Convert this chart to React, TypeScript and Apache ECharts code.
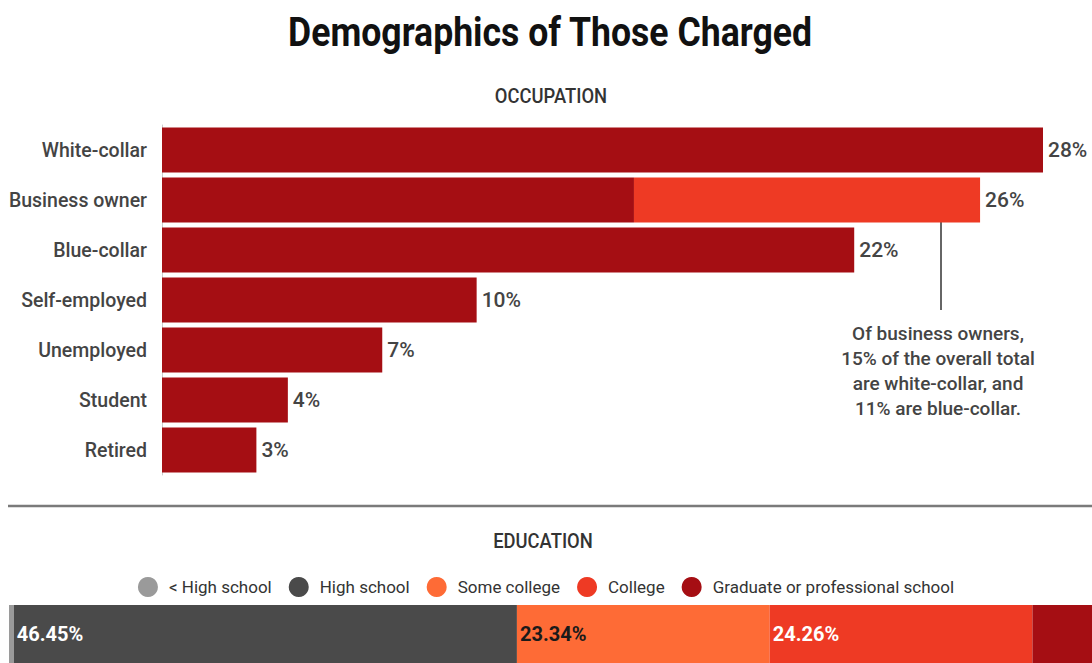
import React, { useEffect, useRef } from "react";
import * as echarts from "echarts";

const occupations = ["White-collar", "Business owner", "Blue-collar", "Self-employed", "Unemployed", "Student", "Retired"];
const occupationShare = [28, 26, 22, 10, 7, 4, 3];
const businessOwnerWhiteCollar = 15;
const businessOwnerBlueCollar = 11;

const educationLevels = ["< High school", "High school", "Some college", "College", "Graduate or professional school"];
const educationShare = [0.45, 46.45, 23.34, 24.26, 5.5];
const educationColors = ["#9a9a9a", "#4a4a4a", "#fe6b36", "#ee3a24", "#a50e13"];
const educationLabelColors = ["", "#ffffff", "#1a1a1a", "#ffffff", ""];

const annotationLines = ["Of business owners,", "15% of the overall total", "are white-collar, and", "11% are blue-collar."];

const DARK_RED = "#a50e13";
const RED = "#ee3a24";
const MAIN = "Roboto, 'Noto Sans', sans-serif";

export default function App() {
  const ref = useRef<HTMLDivElement>(null);
  useEffect(() => {
    document.body.style.margin = "0";
    const chart = echarts.init(ref.current!, null, { renderer: "svg" });
    const boIndex = occupations.indexOf("Business owner");
    const baseData = occupationShare.map((v, i) =>
      i === boIndex
        ? { value: businessOwnerWhiteCollar, label: { show: false } }
        : { value: v }
    );
    const extraData = occupationShare.map((v, i) =>
      i === boIndex ? { value: businessOwnerBlueCollar, label: { show: true } } : { value: 0, label: { show: false } }
    );
    const valueLabel = {
      show: true,
      position: "right",
      distance: 5,
      color: "#444",
      fontFamily: MAIN,
      fontSize: 21,
      fontWeight: 500,
    };
    const eduSeries = educationLevels.map((name, i) => ({
      name,
      type: "bar",
      stack: "edu",
      xAxisIndex: 1,
      yAxisIndex: 1,
      barWidth: "100%",
      itemStyle: { color: educationColors[i] },
      label: {
        show: educationLabelColors[i] !== "",
        position: "insideLeft",
        distance: 3,
        color: educationLabelColors[i] || "#fff",
        fontFamily: MAIN,
        fontSize: 20,
        fontWeight: "bold",
        formatter: (p: any) => p.value.toFixed(2) + "%",
      },
      data: [educationShare[i]],
    }));
    chart.setOption({
      animation: false,
      backgroundColor: "#ffffff",
      legend: {
        data: educationLevels,
        icon: "circle",
        itemWidth: 20,
        itemHeight: 20,
        itemGap: 17,
        left: "center",
        top: 572,
        textStyle: { fontFamily: MAIN, fontSize: 17, color: "#333", padding: [0, 0, 0, 6] },
        selectedMode: false,
      },
      grid: [
        { left: 162, right: 49, top: 125, height: 350 },
        { left: 9, right: 0, top: 605, bottom: 0 },
      ],
      xAxis: [
        { type: "value", gridIndex: 0, min: 0, max: 28, show: false },
        { type: "value", gridIndex: 1, min: 0, max: 100, show: false },
      ],
      yAxis: [
        {
          type: "category",
          gridIndex: 0,
          inverse: true,
          data: occupations,
          axisLine: { show: true, lineStyle: { color: "#cccccc", width: 1 } },
          axisTick: { show: false },
          axisLabel: { margin: 15, color: "#444", fontFamily: MAIN, fontSize: 19.5, fontWeight: 500 },
        },
        { type: "category", gridIndex: 1, data: ["Education"], show: false },
      ],
      graphic: [
        {
          type: "text",
          x: 550,
          y: 32,
          scaleX: 0.89,
          style: {
            text: "Demographics of Those Charged",
            textAlign: "center",
            textVerticalAlign: "middle",
            fontFamily: MAIN,
            fontSize: 40,
            fontWeight: "bold",
            fill: "#111",
          },
        },
        {
          type: "text",
          x: 551,
          y: 96,
          scaleX: 0.92,
          style: { text: "OCCUPATION", textAlign: "center", textVerticalAlign: "middle", fontFamily: MAIN, fontSize: 20, fontWeight: 500, fill: "#333" },
        },
        {
          type: "text",
          x: 543,
          y: 541,
          scaleX: 0.92,
          style: { text: "EDUCATION", textAlign: "center", textVerticalAlign: "middle", fontFamily: MAIN, fontSize: 20, fontWeight: 500, fill: "#333" },
        },
        {
          type: "line",
          shape: { x1: 8, y1: 506, x2: 1092, y2: 506 },
          style: { stroke: "#7a7a7a", lineWidth: 2.5 },
        },
        {
          type: "line",
          shape: { x1: 941, y1: 222, x2: 941, y2: 310 },
          style: { stroke: "#666", lineWidth: 2 },
        },
        {
          type: "text",
          x: 938,
          y: 321,
          style: {
            text: annotationLines.join("\n"),
            textAlign: "center",
            textVerticalAlign: "top",
            fontFamily: MAIN,
            fontSize: 19,
            fontWeight: 500,
            lineHeight: 25,
            fill: "#444",
          },
        },
      ],
      series: [
        {
          name: "Occupation",
          type: "bar",
          stack: "occ",
          barWidth: 45,
          itemStyle: { color: DARK_RED },
          label: { ...valueLabel, formatter: (p: any) => occupationShare[p.dataIndex] + "%" },
          data: baseData,
        },
        {
          name: "Business owner, blue-collar",
          type: "bar",
          stack: "occ",
          barWidth: 45,
          itemStyle: { color: RED },
          label: { ...valueLabel, formatter: (p: any) => occupationShare[p.dataIndex] + "%" },
          data: extraData,
        },
        ...eduSeries,
      ],
    });
    return () => chart.dispose();
  }, []);
  return <div ref={ref} style={{ position: "fixed", left: 0, top: 0, width: 1092, height: 663 }} />;
}
